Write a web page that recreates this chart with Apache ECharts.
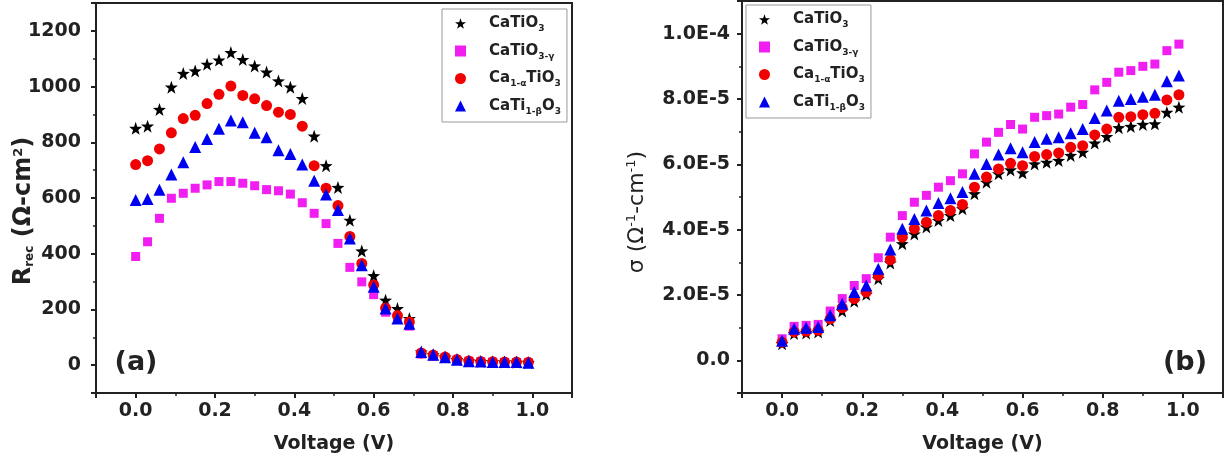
<!DOCTYPE html>
<html>
<head>
<meta charset="utf-8">
<script src="https://cdn.jsdelivr.net/npm/echarts@6/dist/echarts.min.js"></script>
<style>
html, body { margin: 0; padding: 0; background: #fff; }
#chart { width: 1230px; height: 463px; }
</style>
</head>
<body>
<div id="chart"></div>
<script>
// voltage steps shared by both panels
const voltage = [0.00, 0.03, 0.06, 0.09, 0.12, 0.15, 0.18, 0.21, 0.24, 0.27, 0.30, 0.33,
    0.36, 0.39, 0.42, 0.45, 0.48, 0.51, 0.54, 0.57, 0.60, 0.63, 0.66, 0.69,
    0.72, 0.75, 0.78, 0.81, 0.84, 0.87, 0.90, 0.93, 0.96, 0.99];

// (a) R_rec in ohm-cm2
const rCaTiO3 = [850, 858, 918, 998, 1047, 1056, 1080, 1095, 1122, 1097, 1074, 1052, 1020, 998, 957, 822, 716, 638, 520, 410, 321, 233, 203, 167, 47, 37, 29, 20, 15, 13, 12, 11, 10, 9];
const rCaTiO3g = [390, 443, 527, 599, 617, 635, 647, 659, 659, 653, 644, 630, 626, 614, 583, 545, 508, 437, 351, 299, 253, 190, 165, 140, 40, 33, 26, 18, 14, 12, 11, 10, 9, 8];
const rCa1aTiO3 = [720, 734, 776, 834, 885, 897, 939, 972, 1002, 968, 956, 932, 908, 900, 858, 716, 635, 573, 462, 365, 288, 205, 178, 155, 44, 36, 29, 20, 15, 13, 12, 11, 11, 10];
const rCaTi1bO3 = [593, 596, 630, 684, 728, 783, 812, 849, 878, 872, 834, 818, 771, 758, 720, 662, 613, 557, 455, 359, 281, 203, 167, 149, 47, 37, 28, 19, 14, 13, 11, 11, 11, 9];

// (b) conductivity, in units of 1E-5 ohm-1 cm-1
const sCaTiO3 = [0.51, 0.82, 0.84, 0.87, 1.22, 1.51, 1.81, 2.02, 2.50, 2.98, 3.57, 3.87, 4.08, 4.28, 4.43, 4.64, 5.10, 5.45, 5.71, 5.83, 5.74, 6.01, 6.06, 6.12, 6.27, 6.37, 6.65, 6.85, 7.12, 7.16, 7.22, 7.24, 7.59, 7.75];
const sCaTiO3g = [0.66, 1.04, 1.07, 1.10, 1.51, 1.89, 2.29, 2.50, 3.14, 3.77, 4.43, 4.84, 5.05, 5.30, 5.50, 5.71, 6.32, 6.68, 6.98, 7.22, 7.08, 7.44, 7.49, 7.54, 7.75, 7.83, 8.28, 8.51, 8.82, 8.87, 9.00, 9.07, 9.48, 9.68];
const sCa1aTiO3 = [0.55, 0.87, 0.89, 0.92, 1.27, 1.61, 1.89, 2.09, 2.60, 3.08, 3.77, 4.03, 4.23, 4.43, 4.59, 4.77, 5.30, 5.61, 5.86, 6.03, 5.96, 6.24, 6.30, 6.35, 6.52, 6.57, 6.90, 7.08, 7.44, 7.46, 7.52, 7.56, 7.97, 8.13];
const sCaTi1bO3 = [0.60, 0.97, 1.00, 1.02, 1.38, 1.73, 2.09, 2.29, 2.80, 3.39, 4.03, 4.33, 4.59, 4.82, 4.96, 5.15, 5.71, 6.01, 6.30, 6.49, 6.37, 6.68, 6.78, 6.83, 6.95, 7.08, 7.42, 7.65, 7.95, 8.00, 8.07, 8.13, 8.54, 8.72];
const sigmaUnit = 1e-5;

const seriesNames = ['CaTiO3', 'CaTiO3-γ', 'Ca1-αTiO3', 'CaTi1-βO3'];
// rich text versions with subscripts
const legendLabels = {
    'CaTiO3': '{sp| }{n|CaTiO}{s|3}',
    'CaTiO3-γ': '{sp| }{n|CaTiO}{s|3-γ}',
    'Ca1-αTiO3': '{sp| }{n|Ca}{s|1-α}{n|TiO}{s|3}',
    'CaTi1-βO3': '{sp| }{n|CaTi}{s|1-β}{n|O}{s|3}'
};

const STAR = 'path://M0,-10 L2.35,-3.24 L9.51,-3.09 L3.8,1.24 L5.88,8.09 L0,4 L-5.88,8.09 L-3.8,1.24 L-9.51,-3.09 L-2.35,-3.24 Z';
const styles = [
    { symbol: STAR, size: 13, color: '#000000' },
    { symbol: 'rect', size: 9, color: '#f01ef0' },
    { symbol: 'circle', size: 11, color: '#f00000' },
    { symbol: 'triangle', size: 12, color: '#0000f0' }
];

const FONT = 'DejaVu Sans';
const INK = '#222';

const chart = echarts.init(document.getElementById('chart'));

// major axis (labels + long ticks)
const mainAxis = (gridIndex, dim, cfg) => ({
    type: 'value',
    gridIndex: gridIndex,
    position: dim === 'x' ? 'bottom' : 'left',
    min: cfg.min,
    max: cfg.max,
    minInterval: cfg.step,
    maxInterval: cfg.step,
    splitNumber: 6,
    axisLine: { show: true, onZero: false, lineStyle: { color: INK, width: 2 } },
    axisTick: { show: true, inside: false, length: 5, lineStyle: { color: INK, width: 2 } },
    axisLabel: {
        color: INK, fontFamily: FONT, fontWeight: 'bold', fontSize: 19,
        margin: cfg.margin, formatter: cfg.formatter
    },
    splitLine: { show: false },
    name: cfg.name,
    nameLocation: 'middle',
    nameGap: cfg.nameGap,
    nameMoveOverlap: false,
    nameRotate: dim === 'x' ? 0 : 90,
    nameTextStyle: cfg.nameStyle
});
// minor axis (short ticks only)
const minorAxis = (gridIndex, dim, cfg) => ({
    type: 'value',
    gridIndex: gridIndex,
    position: dim === 'x' ? 'bottom' : 'left',
    min: cfg.min,
    max: cfg.max,
    interval: cfg.step / 2,
    axisLine: { show: false, onZero: false },
    axisTick: { show: true, inside: false, length: 3, lineStyle: { color: INK, width: 1.5 } },
    axisLabel: { show: false },
    splitLine: { show: false }
});

const voltFmt = v => (v < -1e-9 || v > 1.0 + 1e-9) ? '' : v.toFixed(1);
const xName = 'Voltage (V)';
const xNameStyle = { color: INK, fontFamily: FONT, fontWeight: 'bold', fontSize: 19, lineHeight: 22 };

const xA = { min: -0.1, max: 1.1, step: 0.2, margin: 9, formatter: voltFmt, name: xName, nameGap: 40, nameStyle: xNameStyle };
const yA = {
    min: -100, max: 1300, step: 200, margin: 15,
    formatter: v => (v < 0 || v > 1200) ? '' : String(Math.round(v)),
    name: 'R{sub|rec} (Ω-cm{sup|2})', nameGap: 60,
    nameStyle: {
        color: INK, fontFamily: FONT, fontWeight: 'bold', fontSize: 24, lineHeight: 24,
        padding: [0, 26, 0, 0],
        rich: {
            sub: { fontFamily: FONT, fontWeight: 'bold', fontSize: 12, lineHeight: 11, verticalAlign: 'bottom', color: INK },
            sup: { fontFamily: FONT, fontWeight: 'bold', fontSize: 13, lineHeight: 12, verticalAlign: 'top', color: INK }
        }
    }
};
const yB = {
    min: -1e-5, max: 1.1e-4, step: 2e-5, margin: 12,
    formatter: v => {
        if (v < -1e-12 || v > 1.0001e-4) return '';
        if (Math.abs(v) < 1e-12) return '0.0';
        return v.toExponential(1).replace('e', 'E');
    },
    name: 'σ (Ω{sup|-1}-cm{sup|-1})', nameGap: 93,
    nameStyle: {
        color: INK, fontFamily: FONT, fontWeight: 'normal', fontSize: 22, lineHeight: 24,
        padding: [0, 30, 0, 0],
        rich: {
            sup: { fontFamily: FONT, fontSize: 13, lineHeight: 12, verticalAlign: 'top', color: INK }
        }
    }
};

const legendCfg = (left, top) => ({
    orient: 'vertical',
    left: left,
    top: top,
    data: seriesNames,
    itemWidth: 11,
    itemHeight: 11,
    itemGap: 10,
    padding: [7, 6, 6, 13],
    borderColor: '#999',
    borderWidth: 1,
    selectedMode: false,
    formatter: name => legendLabels[name],
    textStyle: {
        color: INK,
        rich: {
            sp: { width: 18 },
            n: { fontFamily: FONT, fontWeight: 'bold', fontSize: 15, lineHeight: 20, color: INK },
            s: { fontFamily: FONT, fontWeight: 'bold', fontSize: 9, lineHeight: 9, verticalAlign: 'bottom', color: INK }
        }
    }
});

const series = [];
const rData = [rCaTiO3, rCaTiO3g, rCa1aTiO3, rCaTi1bO3];
const sData = [sCaTiO3, sCaTiO3g, sCa1aTiO3, sCaTi1bO3];
seriesNames.forEach((name, k) => {
    const st = styles[k];
    series.push({
        name: name, type: 'scatter', xAxisIndex: 0, yAxisIndex: 0,
        symbol: st.symbol, symbolSize: st.size,
        itemStyle: { color: st.color, opacity: 1 },
        data: voltage.map((v, i) => [v, rData[k][i]])
    });
    series.push({
        name: name, type: 'scatter', xAxisIndex: 2, yAxisIndex: 2,
        symbol: st.symbol, symbolSize: st.size,
        itemStyle: { color: st.color, opacity: 1 },
        data: voltage.map((v, i) => [v, sData[k][i] * sigmaUnit])
    });
});

const option = {
    backgroundColor: '#fff',
    animation: false,
    grid: [
        { left: 96, top: 3, width: 476, height: 390, show: true, borderColor: INK, borderWidth: 2, backgroundColor: 'transparent', containLabel: false, outerBoundsMode: 'none' },
        { left: 742, top: 1, width: 481, height: 392, show: true, borderColor: INK, borderWidth: 2, backgroundColor: 'transparent', containLabel: false, outerBoundsMode: 'none' }
    ],
    xAxis: [mainAxis(0, 'x', xA), minorAxis(0, 'x', xA), mainAxis(1, 'x', xA), minorAxis(1, 'x', xA)],
    yAxis: [mainAxis(0, 'y', yA), minorAxis(0, 'y', yA), mainAxis(1, 'y', yB), minorAxis(1, 'y', yB)],
    legend: [legendCfg(442, 9), legendCfg(746, 5)],
    graphic: [
        { type: 'text', x: 136, y: 363, style: { text: '(a)', fontFamily: FONT, fontWeight: 'bold', fontSize: 27, fill: INK, align: 'center', verticalAlign: 'middle' } },
        { type: 'text', x: 1185, y: 363, style: { text: '(b)', fontFamily: FONT, fontWeight: 'bold', fontSize: 27, fill: INK, align: 'center', verticalAlign: 'middle' } }
    ],
    series: series
};

chart.setOption(option);
</script>
</body>
</html>
